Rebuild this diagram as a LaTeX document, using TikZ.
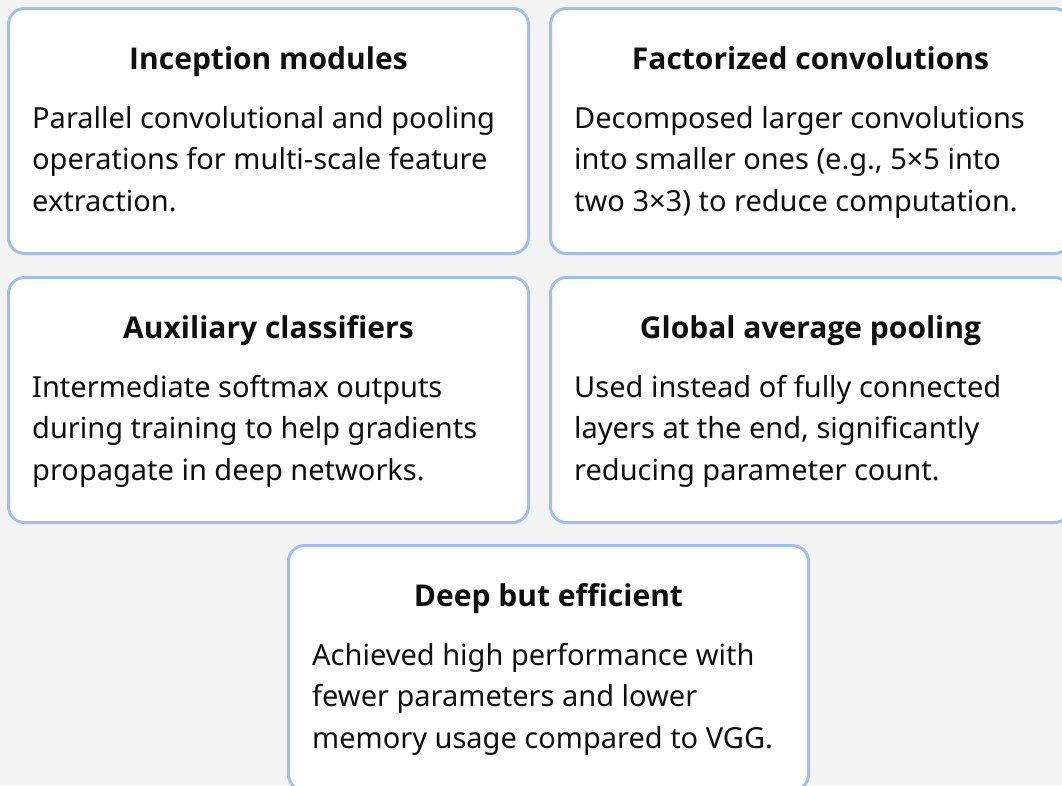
\documentclass[tikz,border=0pt]{standalone}
\usepackage{fontspec}
\setmainfont{Noto Sans}
\newfontfamily\headfont{Open Sans}
\definecolor{pagebg}{RGB}{243,243,243}
\definecolor{cardedge}{RGB}{160,190,238}
\definecolor{ink}{RGB}{15,15,15}
\tikzset{
  card/.style={draw=cardedge, line width=3pt, fill=white, rounded corners=16pt,
    minimum width=520pt, minimum height=245pt, anchor=north west, inner sep=0pt},
  cardtitle/.style={anchor=base, inner sep=0pt, text=ink,
    font=\headfont\bfseries\fontsize{30}{36}\selectfont},
  cardbody/.style={anchor=base west, inner sep=0pt, align=left, text=ink,
    font=\fontsize{29}{41.5}\selectfont}
}
\begin{document}
\begin{tikzpicture}[x=1pt,y=-1pt]
  \fill[pagebg] (0,0) rectangle (1062,785);
  \useasboundingbox (0,0) rectangle (1062,785);
  \clip (0,0) rectangle (1062,785);

  % top row
  \node[card] (c1) at (7,7) {};
  \node[cardtitle] (t1) at ([yshift=-62pt]c1.north) {Inception modules};
  \node[cardbody] (d1) at ([xshift=25pt,yshift=-204pt]c1.north west)
    {Parallel convolutional and pooling\\operations for multi-scale feature\\extraction.};

  \node[card] (c2) at (549,7) {};
  \node[cardtitle] (t2) at ([yshift=-62pt]c2.north) {Factorized convolutions};
  \node[cardbody] (d2) at ([xshift=25pt,yshift=-204pt]c2.north west)
    {Decomposed larger convolutions\\into smaller ones (e.g., 5×5 into\\two 3×3) to reduce computation.};

  % middle row
  \node[card] (c3) at (7,276) {};
  \node[cardtitle] (t3) at ([yshift=-62pt]c3.north) {Auxiliary classifiers};
  \node[cardbody] (d3) at ([xshift=25pt,yshift=-204pt]c3.north west)
    {Intermediate softmax outputs\\during training to help gradients\\propagate in deep networks.};

  \node[card] (c4) at (549,276) {};
  \node[cardtitle] (t4) at ([yshift=-62pt]c4.north) {Global average pooling};
  \node[cardbody] (d4) at ([xshift=25pt,yshift=-204pt]c4.north west)
    {Used instead of fully connected\\layers at the end, significantly\\reducing parameter count.};

  % bottom card
  \node[card] (c5) at (287,544) {};
  \node[cardtitle] (t5) at ([yshift=-62pt]c5.north) {Deep but efficient};
  \node[cardbody] (d5) at ([xshift=25pt,yshift=-204pt]c5.north west)
    {Achieved high performance with\\fewer parameters and lower\\memory usage compared to VGG.};
\end{tikzpicture}
\end{document}
